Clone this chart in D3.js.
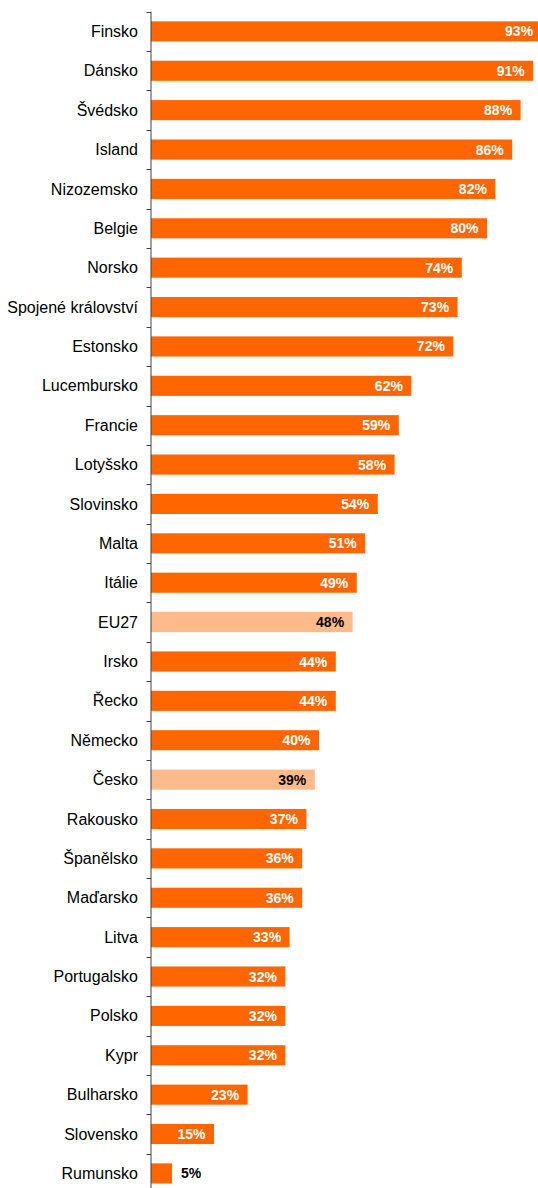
<!DOCTYPE html>
<html><head><meta charset="utf-8">
<script src="https://cdn.jsdelivr.net/npm/d3@7"></script>
<style>body{margin:0;background:#fff}svg{display:block}</style>
</head><body>
<script>
const categories = ["Finsko","Dánsko","Švédsko","Island","Nizozemsko","Belgie","Norsko","Spojené království","Estonsko","Lucembursko","Francie","Lotyšsko","Slovinsko","Malta","Itálie","EU27","Irsko","Řecko","Německo","Česko","Rakousko","Španělsko","Maďarsko","Litva","Portugalsko","Polsko","Kypr","Bulharsko","Slovensko","Rumunsko"];
const values = [93,91,88,86,82,80,74,73,72,62,59,58,54,51,49,48,44,44,40,39,37,36,36,33,32,32,32,23,15,5];
const highlighted = ["EU27","Česko"];

const W = 538, H = 1188;
const svg = d3.select("body").append("svg").attr("width", W).attr("height", H);
const x0 = 151;
const x = d3.scaleLinear().domain([0, 100]).range([x0, x0 + 420]);
const y = d3.scaleBand().domain(categories).range([11.7, 11.7 + 30 * 39.38]).paddingInner(0.49).paddingOuter(0.245);
const step = y.step();

const data = categories.map((c, i) => ({c, v: values[i], hl: highlighted.includes(c)}));

svg.selectAll("rect.bar").data(data).join("rect")
  .attr("x", x(0)).attr("y", d => y(d.c))
  .attr("width", d => x(d.v) - x(0)).attr("height", y.bandwidth())
  .attr("fill", d => d.hl ? "#FDBA8A" : "#FF6600");

// axis line and ticks
const yTop = y.range()[0];
svg.append("line").attr("x1", x0).attr("x2", x0).attr("y1", yTop).attr("y2", H)
  .attr("stroke", "#404040").attr("stroke-width", 1);
const tickYs = d3.range(categories.length + 1).map(i => yTop + i * step);
svg.selectAll("line.tick").data(tickYs).join("line")
  .attr("x1", x0 - 4.5).attr("x2", x0).attr("y1", d => Math.round(d) + 0.5).attr("y2", d => Math.round(d) + 0.5)
  .attr("stroke", "#404040").attr("stroke-width", 1);

svg.selectAll("text.cat").data(data).join("text")
  .attr("x", x0 - 13).attr("y", d => y(d.c) + y.bandwidth() / 2)
  .attr("dy", "0.35em").attr("text-anchor", "end")
  .attr("font-family", "Liberation Sans, Arial, sans-serif").attr("font-size", 16)
  .attr("fill", "#000").text(d => d.c);

svg.selectAll("text.val").data(data).join("text")
  .attr("x", d => d.v < 10 ? x(d.v) + 9 : x(d.v) - 8.5)
  .attr("y", d => y(d.c) + y.bandwidth() / 2)
  .attr("dy", "0.36em").attr("text-anchor", d => d.v < 10 ? "start" : "end")
  .attr("font-family", "Liberation Sans, Arial, sans-serif").attr("font-size", 14).attr("font-weight", "bold")
  .attr("fill", d => (d.hl || d.v < 10) ? "#000" : "#fff")
  .text(d => d.v + "%");
</script>
</body></html>
